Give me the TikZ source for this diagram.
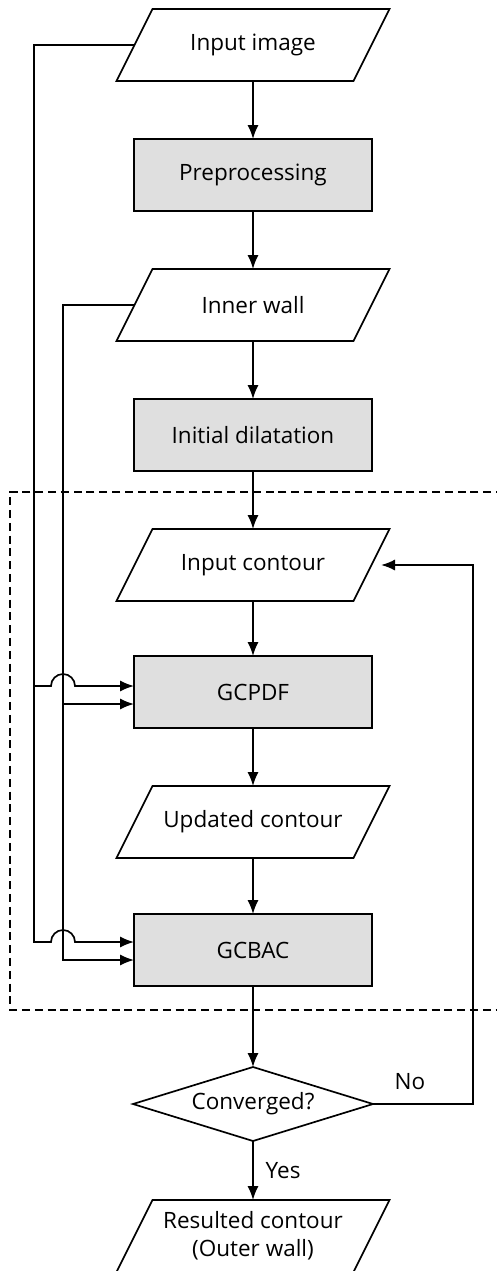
\documentclass[tikz,border=0pt]{standalone}
\usepackage{fontspec}
\setmainfont{Open Sans}
\usepackage{tikz}
\usetikzlibrary{shapes.geometric, arrows.meta, positioning, calc}

\begin{document}
\begin{tikzpicture}[>={Latex[length=3.5mm, width=2.8mm]}, line width=1.2pt, outer sep=0pt,
					process/.style={rectangle, draw, minimum height=1.8cm, minimum width=5.95cm, fill=gray!25, font=\fontsize{16}{20}\selectfont},
					data/.style={rectangle, minimum height=1.8cm, minimum width=5.925cm, inner sep=0pt, align=center, font=\fontsize{16}{20}\selectfont},
					decision/.style={diamond, draw, aspect=3.24, minimum width=6cm, minimum height=1.85cm, inner sep=0pt, font=\fontsize{16}{20}\selectfont},
					label/.style={font=\fontsize{16}{20}\selectfont},
					arrow/.style={->}
				]
					\useasboundingbox (0,0) rectangle (12.4,-31.775);
					
					% Nodes
					\node[data] (inimg) at (6.325,-1.125) {Input image};
					\node[process, below=1.45cm of inimg] (prep) {Preprocessing};
					\node[data, below=1.45cm of prep] (inwall) {Inner wall};
					\node[process, below=1.45cm of inwall] (dilat) {Initial dilatation};
					\node[data, below=1.45cm of dilat] (incont) {Input contour};
					\node[process, below=1.375cm of incont] (gcpdf) {GCPDF};
					\node[data, below=1.45cm of gcpdf] (updcont) {Updated contour};
					\node[process, below=1.4cm of updcont] (gcbac) {GCBAC};
					\node[decision, below=2.025cm of gcbac] (conv) {Converged?};
					\node[data, below=1.475cm of conv] (result) {Resulted contour\\(Outer wall)};
					
					% Slanted outlines of the data nodes
					\foreach \n in {inimg, inwall, incont, updcont, result}
						\draw ($(\n.north west)+(0.45,0)$) -- ($(\n.north east)+(0.45,0)$) -- ($(\n.south east)+(-0.45,0)$) -- ($(\n.south west)+(-0.45,0)$) -- cycle;
					
					% Iteration frame
					\draw[dashed, dash pattern=on 0.2cm off 0.12cm] (12.6,-12.3) -- (0.25,-12.3) -- (0.25,-25.25) -- (12.6,-25.25);
					
					% Arrows
					\draw[arrow] (inimg) -- (prep);
					\draw[arrow] (prep) -- (inwall);
					\draw[arrow] (inwall) -- (dilat);
					\draw[arrow] (dilat) -- (incont);
					\draw[arrow] (incont) -- (gcpdf);
					\draw[arrow] (gcpdf) -- (updcont);
					\draw[arrow] (updcont) -- (gcbac);
					\draw[arrow] (gcbac) -- (conv);
					\draw[arrow] (conv) -- node[label, right=0.2cm] {Yes} (result);
					\draw[arrow, shorten >=0.24cm] (conv.east) -- ++(2.5,0) node[label, pos=0.37, above=0.25cm] {No} |- (incont.east);
					
					% Side lines
					\coordinate (busa) at (0.85,0);
					\coordinate (busb) at (1.575,0);
					\draw[arrow] (inimg.west) -| ($(busa |- gcbac.west)+(0,0.2)$) -- ($(busb |- gcbac.west)+(-0.3,0.2)$) arc[start angle=180, end angle=0, radius=0.3] -- ($(gcbac.west)+(0,0.2)$);
					\draw[arrow] ($(busa |- gcpdf.west)+(0,0.15)$) -- ($(busb |- gcpdf.west)+(-0.3,0.15)$) arc[start angle=180, end angle=0, radius=0.3] -- ($(gcpdf.west)+(0,0.15)$);
					\draw[arrow] (inwall.west) -| ($(busb |- gcbac.west)+(0,-0.25)$) -- ($(gcbac.west)+(0,-0.25)$);
					\draw[arrow] ($(busb |- gcpdf.west)+(0,-0.3)$) -- ($(gcpdf.west)+(0,-0.3)$);
				\end{tikzpicture}
\end{document}
